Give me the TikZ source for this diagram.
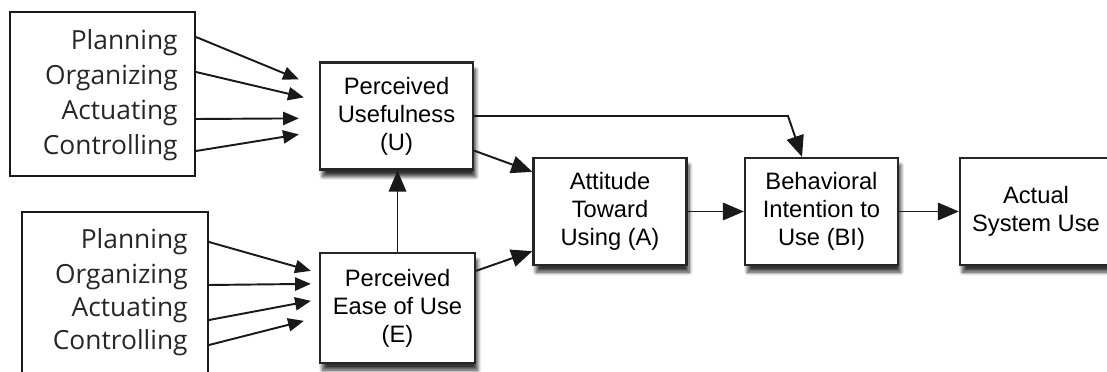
\documentclass[tikz,border=0pt]{standalone}
\usepackage{fontspec}
\setmainfont{Liberation Sans}
\newfontfamily\listfont{Open Sans}
\usetikzlibrary{positioning,calc,arrows.meta,shadows.blur}

\tikzset{
  stage/.style={draw=black!85, line width=1.3pt, fill=white, align=center,
    font=\fontsize{13.5}{16}\selectfont, minimum width=3.06cm, minimum height=2.14cm,
    blur shadow={shadow xshift=1.5pt, shadow yshift=-4pt, shadow blur steps=8, shadow opacity=80}},
  item/.style={anchor=east, inner sep=0pt, font=\listfont\fontsize{15}{16}\selectfont, text=black!85},
  listbox/.style={draw=black!90, line width=0.8pt},
  link/.style={->, line width=1.1pt, black!90},
  biglink/.style={link, >={Triangle[length=12pt,width=10pt]}},
}

\begin{document}
\begin{tikzpicture}[x=0.02cm, y=-0.02cm, >={Triangle[length=9pt,width=7.5pt]}]
    \useasboundingbox (0,0) rectangle (1107,372);
    \clip (0,0) rectangle (1107,372);

    % the model
    \node[stage] (pu) at (396.5,116) {Perceived\\Usefulness\\(U)};
    \node[stage, minimum width=3.1cm, minimum height=2.2cm] (peou) at (397.5,308) {Perceived\\Ease of Use\\(E)};
    \node[stage] (att) at (610,211.5) {Attitude\\Toward\\Using (A)};
    \node[stage] (bi) at (821.5,211.5) {Behavioral\\Intention to\\Use (BI)};
    \node[stage, minimum width=3.04cm] (asu) at (1036,211.5) {Actual\\System Use};

    % upper list
    \draw[listbox] (10,12) rectangle (195,176);
    \node[item] (plan1) at (178,43) {Planning};
    \node[item] (org1) at (178,78) {Organizing};
    \node[item] (act1) at (178,113) {Actuating};
    \node[item] (ctrl1) at (178,148) {Controlling};

    % lower list
    \draw[listbox] (22,212) rectangle (208,390);
    \node[item] (plan2) at (188,242) {Planning};
    \node[item] (org2) at (188,277) {Organizing};
    \node[item] (act2) at (188,310) {Actuating};
    \node[item] (ctrl2) at (188,343) {Controlling};

    % arrows out of the lists
    \coordinate (plan1out) at (196,37);
    \coordinate (org1out) at (196,72);
    \coordinate (act1out) at (196,119);
    \coordinate (ctrl1out) at (196,151);
    \coordinate (plan2out) at (209,242);
    \coordinate (org2out) at (209,285);
    \coordinate (act2out) at (209,320);
    \coordinate (ctrl2out) at (209,345);

    \draw[link] (plan1out) -- ($(pu.north west)+(-20,18)$);
    \draw[link] (org1out) -- ($(pu.north west)+(-15,36)$);
    \draw[link] (act1out) -- ($(pu.north west)+(-20,57)$);
    \draw[link] (ctrl1out) -- ($(pu.north west)+(-20,73)$);

    \draw[link] (plan2out) -- ($(peou.north west)+(-8,19)$);
    \draw[link] (org2out) -- ($(peou.north west)+(-8,32)$);
    \draw[link] (act2out) -- ($(peou.north west)+(-8,49)$);
    \draw[link] (ctrl2out) -- ($(peou.north west)+(-15,69)$);

    % arrows between the stages
    \draw[biglink] (peou.north) -- (peou.north |- pu.south);
    \draw[biglink] ([yshift=0.4cm]pu.south east) -- ([yshift=-0.3cm]att.north west);
    \draw[biglink] ([yshift=-0.38cm]peou.north east) -- ([yshift=0.3cm]att.south west);
    \draw[biglink] (att.east) -- (bi.west);
    \draw[biglink] (bi.east) -- (asu.west);
    \coordinate (bend) at (788,116);
    \draw[biglink] (pu.east) -- (bend) -- ([xshift=-0.39cm]bi.north);
\end{tikzpicture}
\end{document}
